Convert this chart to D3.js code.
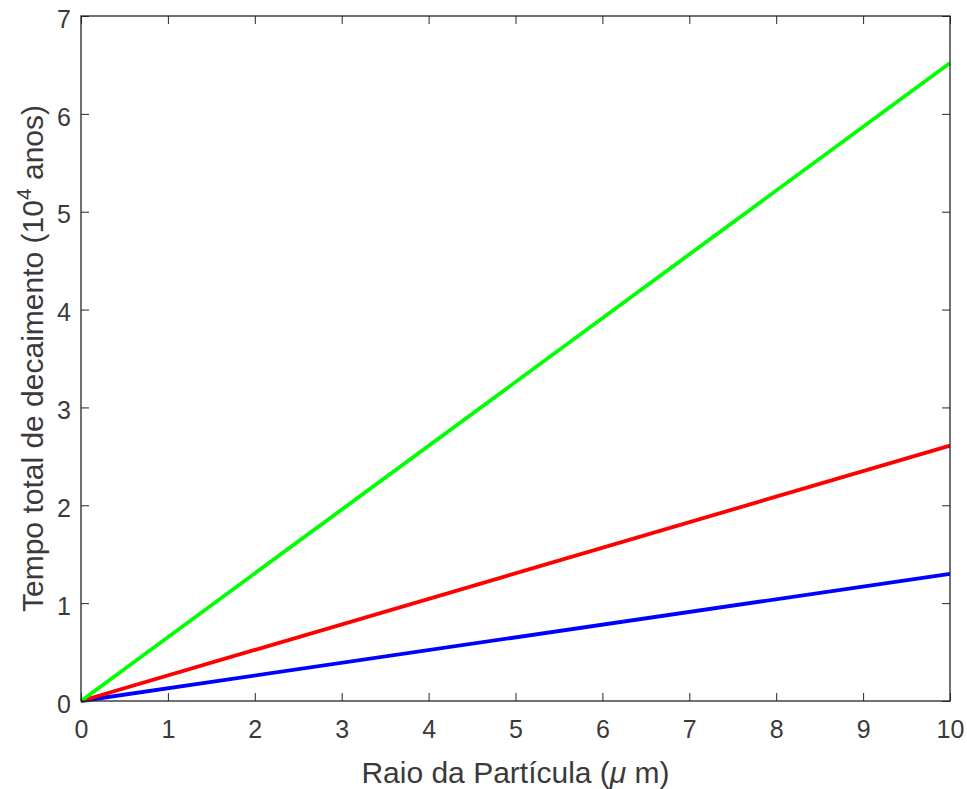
<!DOCTYPE html>
<html><head><meta charset="utf-8">
<script src="https://cdn.jsdelivr.net/npm/d3@7"></script>
<style>body{margin:0;background:#fff}svg{display:block}text{font-family:"Liberation Sans",Arial,sans-serif}</style>
</head><body>
<svg id="c" width="967" height="789"></svg>
<script>
const radius = [0, 10];
const blueValues = [0, 1.30];
const redValues = [0, 2.61];
const greenValues = [0, 6.52];
const xTicks = [0,1,2,3,4,5,6,7,8,9,10];
const yTicks = [0,1,2,3,4,5,6,7];
const seriesColors = ["#0000ff","#ff0000","#00ff00"];

const svg = d3.select("#c");
const m = {l:81, r:950, t:16, b:701};
const x = d3.scaleLinear().domain([0,10]).range([m.l,m.r]);
const y = d3.scaleLinear().domain([0,7]).range([m.b,m.t]);
const axc = "#262626", tc = "#3a3a3a";

const series = [blueValues, redValues, greenValues];
const line = d3.line().x((d,i)=>x(radius[i])).y(d=>y(d));
series.forEach((s,k)=>{
  svg.append("path").datum(s).attr("d",line).attr("fill","none")
    .attr("stroke",seriesColors[k]).attr("stroke-width",3.8);
});

function styleAxis(g){
  g.selectAll(".domain").remove();
  g.selectAll("line").attr("stroke",axc).attr("stroke-width",1);
  g.selectAll("text").attr("fill",tc).style("font-size","25px");
}
svg.append("g").attr("transform",`translate(0,${m.b})`)
  .call(d3.axisBottom(x).tickValues(xTicks).tickSize(-8).tickPadding(19).tickFormat(d3.format("d")))
  .call(styleAxis);
svg.append("g").attr("transform",`translate(0,${m.t})`)
  .call(d3.axisTop(x).tickValues(xTicks).tickSize(-8).tickFormat(""))
  .call(styleAxis);
svg.append("g").attr("transform",`translate(${m.l},0)`)
  .call(d3.axisLeft(y).tickValues(yTicks).tickSize(-8).tickPadding(10).tickFormat(d3.format("d")))
  .call(styleAxis)
  .call(g=>g.selectAll("text").attr("dy","0.45em"));
svg.append("g").attr("transform",`translate(${m.r},0)`)
  .call(d3.axisRight(y).tickValues(yTicks).tickSize(-8).tickFormat(""))
  .call(styleAxis);

svg.append("rect").attr("x",m.l).attr("y",m.t).attr("width",m.r-m.l).attr("height",m.b-m.t)
  .attr("fill","none").attr("stroke",axc).attr("stroke-width",1.3);

svg.append("text").attr("x",(m.l+m.r)/2).attr("y",783).attr("text-anchor","middle")
  .attr("fill",tc).style("font-size","30px")
  .html('Raio da Partícula (<tspan font-style="italic">μ</tspan> m)');

const yl = svg.append("text").attr("transform",`translate(43,${(m.t+m.b)/2}) rotate(-90)`)
  .attr("text-anchor","middle").attr("fill",tc).style("font-size","30px");
yl.append("tspan").text("Tempo total de decaimento (10");
yl.append("tspan").attr("dy",-12).style("font-size","21px").text("4");
yl.append("tspan").attr("dy",12).text(" anos)");
</script>
</body></html>
